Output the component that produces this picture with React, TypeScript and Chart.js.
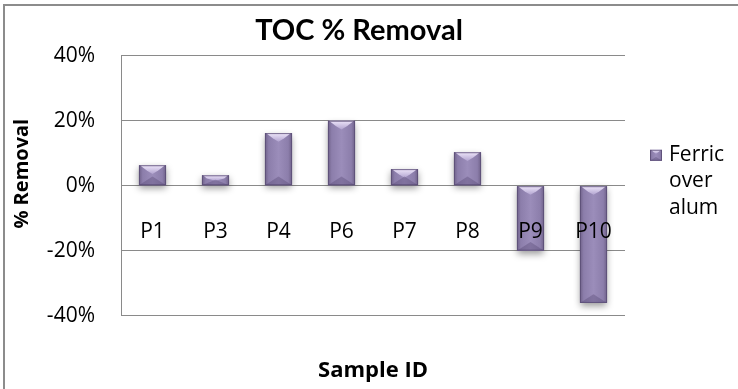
import React, { useEffect, useRef } from 'react';
import { Chart, registerables } from 'chart.js';

Chart.register(...registerables);

const categories = ['P1', 'P3', 'P4', 'P6', 'P7', 'P8', 'P9', 'P10'];
const ferricOverAlum = [6.3, 3.2, 16.2, 20, 5.1, 10.3, -20, -36.1];
const yTickValues = [-40, -20, 0, 20, 40];
const legendLines = ['Ferric', 'over', 'alum'];
const chartTitle = 'TOC % Removal';
const xAxisTitle = 'Sample ID';
const yAxisTitle = '% Removal';

const FONT = 'Open Sans';
const TITLE_FONT = 'Lato';

function bevelRect(ctx: CanvasRenderingContext2D, L: number, T: number, w: number, h: number) {
  const R = L + w;
  const B = T + h;
  const cx = L + w / 2;
  const g = ctx.createLinearGradient(L, 0, R, 0);
  g.addColorStop(0, '#6f6189');
  g.addColorStop(0.14, '#8c7eab');
  g.addColorStop(0.5, '#9b8dba');
  g.addColorStop(0.86, '#8c7eab');
  g.addColorStop(1, '#6f6189');
  ctx.fillStyle = g;
  ctx.fillRect(L, T, w, h);
  const d = Math.min(w * 0.32, h * 0.55);
  const tg = ctx.createLinearGradient(0, T, 0, T + d);
  tg.addColorStop(0, '#eee6fa');
  tg.addColorStop(1, '#b2a4d0');
  ctx.fillStyle = tg;
  ctx.beginPath();
  ctx.moveTo(L + 1, T);
  ctx.lineTo(R - 1, T);
  ctx.lineTo(R - d * 0.9, T + d * 0.6);
  ctx.lineTo(cx, T + d);
  ctx.lineTo(L + d * 0.9, T + d * 0.6);
  ctx.closePath();
  ctx.fill();
  ctx.fillStyle = 'rgba(80,66,110,0.35)';
  ctx.beginPath();
  ctx.moveTo(L, B);
  ctx.lineTo(R, B);
  ctx.lineTo(cx, B - d);
  ctx.closePath();
  ctx.fill();
  ctx.strokeStyle = 'rgba(90,76,118,0.8)';
  ctx.lineWidth = 1;
  ctx.strokeRect(L + 0.5, T + 0.5, w - 1, h - 1);
}

const bevelPlugin = {
  id: 'bevelBars',
  beforeDatasetsDraw(chart: any) {
    const ctx = chart.ctx;
    ctx.save();
    ctx.shadowColor = 'rgba(0,0,0,0.4)';
    ctx.shadowBlur = 7;
    ctx.shadowOffsetX = 0;
    ctx.shadowOffsetY = 3;
  },
  afterDatasetsDraw(chart: any) {
    const ctx = chart.ctx;
    ctx.restore();
    const meta = chart.getDatasetMeta(0);
    ctx.save();
    meta.data.forEach((el: any) => {
      const { x, y, base, width } = el.getProps(['x', 'y', 'base', 'width'], true);
      const L = x - width / 2;
      const T = Math.min(y, base);
      const h = Math.abs(base - y);
      bevelRect(ctx, L, T, width, h);
    });
    ctx.restore();
  },
};

const legendPlugin = {
  id: 'sideLegend',
  afterDraw(chart: any) {
    const ctx = chart.ctx;
    const area = chart.chartArea;
    const boxX = area.right + 25;
    const boxY = area.top + 94;
    ctx.save();
    bevelRect(ctx, boxX, boxY, 12, 11);
    ctx.fillStyle = '#000';
    ctx.font = `21px "${FONT}"`;
    ctx.textAlign = 'left';
    ctx.textBaseline = 'alphabetic';
    legendLines.forEach((line, i) => {
      ctx.fillText(line, area.right + 44, area.top + 105 + i * 26.5);
    });
    ctx.restore();
  },
};

const yTitlePlugin = {
  id: 'yTitle',
  afterDraw(chart: any) {
    const ctx = chart.ctx;
    const area = chart.chartArea;
    ctx.save();
    ctx.translate(area.left - 98.5, (area.top + area.bottom) / 2 - 12);
    ctx.rotate(-Math.PI / 2);
    ctx.fillStyle = '#000';
    ctx.font = `bold 20px "${FONT}"`;
    ctx.textAlign = 'center';
    ctx.textBaseline = 'middle';
    ctx.fillText(yAxisTitle, 0, 0);
    ctx.restore();
  },
};

export default function App() {
  const canvasRef = useRef<HTMLCanvasElement | null>(null);

  useEffect(() => {
    if (!canvasRef.current) return;
    Chart.defaults.font.family = FONT;
    const chart = new Chart(canvasRef.current, {
      type: 'bar',
      data: {
        labels: categories,
        datasets: [
          {
            label: legendLines.join(' '),
            data: ferricOverAlum,
            backgroundColor: '#8f81ae',
            borderWidth: 0,
            barPercentage: 0.43,
            categoryPercentage: 1,
          },
        ],
      },
      options: {
        animation: false,
        responsive: true,
        maintainAspectRatio: false,
        layout: { padding: { left: 8, right: 28, top: 0, bottom: 2 } },
        plugins: {
          legend: { display: false },
          tooltip: { enabled: false },
          title: {
            display: true,
            text: chartTitle,
            color: '#000',
            font: { family: TITLE_FONT, size: 29, weight: 'bold' },
            padding: { top: 13, bottom: 8 },
          },
        },
        scales: {
          x: {
            type: 'category',
            position: { y: 0 } as any,
            grid: { display: false, drawTicks: false },
            border: { display: false },
            ticks: {
              z: 1,
              color: '#000',
              font: { family: FONT, size: 21 },
              padding: 34,
              maxRotation: 0,
              autoSkip: false,
            },
          },
          x2: {
            type: 'category',
            position: 'bottom',
            grid: { display: false, drawTicks: false },
            border: { display: false },
            ticks: { display: false },
            title: {
              display: true,
              text: xAxisTitle,
              color: '#000',
              font: { family: FONT, size: 22, weight: 'bold' },
              padding: { top: 42, bottom: 3 },
            },
          },
          y: {
            min: -40,
            max: 40,
            afterBuildTicks: (scale: any) => {
              scale.ticks = yTickValues.map((v) => ({ value: v }));
            },
            afterFit: (scale: any) => {
              scale.width = 113;
            },
            grid: { color: '#8a8a8a', drawTicks: false, lineWidth: 1 },
            border: { color: '#8a8a8a', width: 1 },
            ticks: {
              color: '#000',
              font: { family: FONT, size: 21 },
              padding: 26,
              callback: (v: any) => `${v}%`,
            },
          },
          legendSpace: {
            type: 'linear',
            position: 'right',
            grid: { display: false, drawTicks: false },
            border: { display: false },
            ticks: { display: false },
            afterFit: (scale: any) => {
              scale.width = 85;
            },
          },
        },
      } as any,
      plugins: [bevelPlugin, legendPlugin, yTitlePlugin],
    });
    return () => chart.destroy();
  }, []);

  return (
    <div style={{ position: 'fixed', left: 0, top: 0, width: 738, height: 389, background: '#fff' }}>
      <div
        style={{
          position: 'absolute',
          left: 3,
          top: 4,
          width: 760,
          height: 400,
          borderLeft: '2px solid #8c8c8c',
          borderTop: '2px solid #8c8c8c',
        }}
      />
      <canvas ref={canvasRef} style={{ position: 'absolute', left: 0, top: 0 }} />
    </div>
  );
}
